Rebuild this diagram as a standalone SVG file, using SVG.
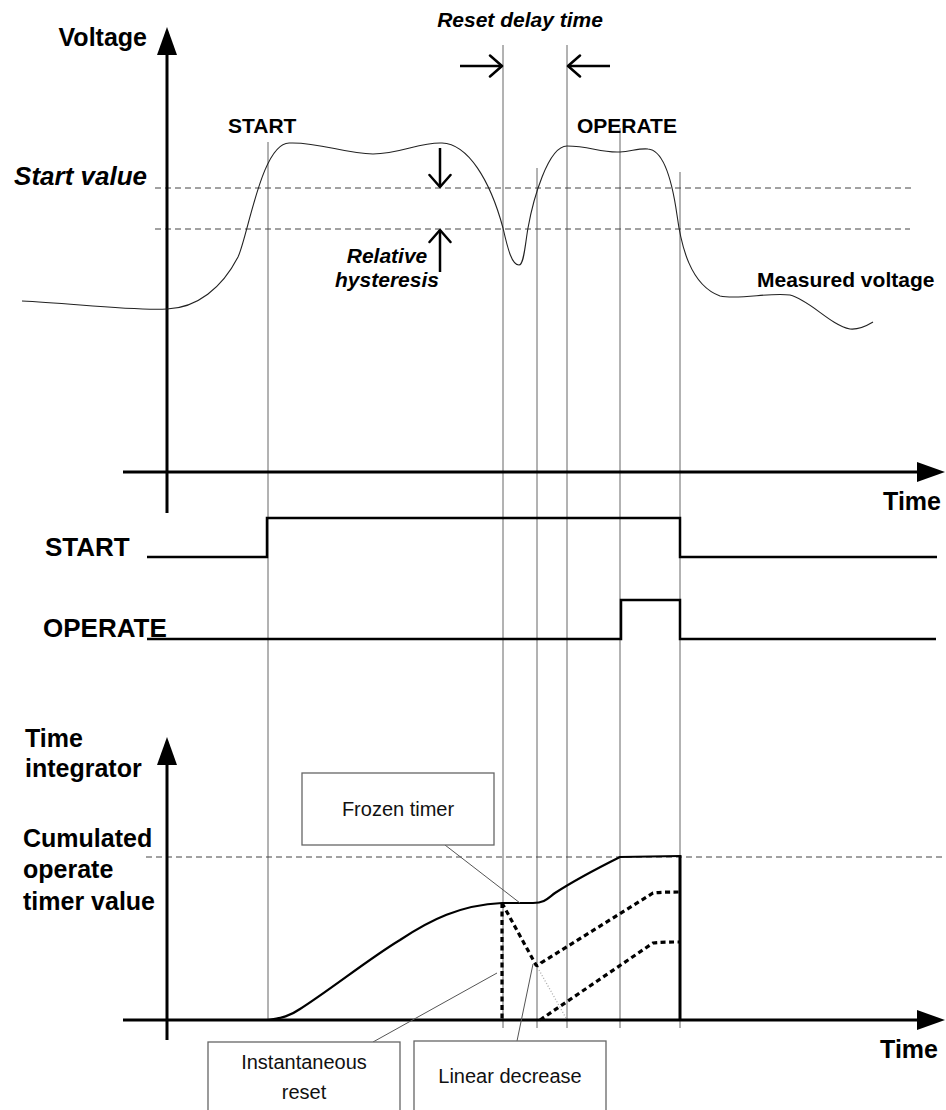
<svg xmlns="http://www.w3.org/2000/svg" width="946" height="1110" viewBox="0 0 946 1110">
<style>
.big{font-family:"Liberation Sans",Arial,sans-serif;font-weight:bold;font-size:25px;fill:#000}
.sig{font-family:"Liberation Sans",Arial,sans-serif;font-weight:bold;font-size:26px;fill:#000}
.mid{font-family:"Liberation Sans",Arial,sans-serif;font-weight:bold;font-size:21px;fill:#000}
.it{font-style:italic}
.box{font-family:"Liberation Sans",Arial,sans-serif;font-size:20px;fill:#111}
.axis{stroke:#000;stroke-width:3;fill:none}
.vline{stroke:#666;stroke-width:1;fill:none}
.hdash{stroke:#444;stroke-width:1;stroke-dasharray:6 4;fill:none}
.sigline{stroke:#000;stroke-width:2.5;fill:none}
.curve{stroke:#222;stroke-width:1.1;fill:none}
.timer{stroke:#000;stroke-width:2.2;fill:none}
.tdash{stroke:#000;stroke-width:3.2;stroke-dasharray:5 3.5;fill:none}
.arr{stroke:#000;stroke-width:2.5;fill:none}
.lead{stroke:#555;stroke-width:1;fill:none}
.cbox{fill:#fff;stroke:#666;stroke-width:1.3}
</style>
<defs>
<marker id="axhead" markerUnits="userSpaceOnUse" viewBox="0 0 28 20" refX="0" refY="10" markerWidth="28" markerHeight="20" orient="auto">
<path d="M0,0 L28,10 L0,20 z" fill="#000"/>
</marker>
<marker id="openhead" markerUnits="userSpaceOnUse" viewBox="0 0 16 24" refX="14" refY="12" markerWidth="16" markerHeight="24" orient="auto">
<path d="M2,1.5 L14,12 L2,22.5" fill="none" stroke="#000" stroke-width="2.5" stroke-linecap="round" stroke-linejoin="round"/>
</marker>
</defs>
<rect width="946" height="1110" fill="#fff"/>

<g id="guides">
<line class="vline" x1="268" y1="142" x2="268" y2="1020"/>
<line class="vline" x1="503" y1="45" x2="503" y2="1028"/>
<line class="vline" x1="537" y1="168" x2="537" y2="1028"/>
<line class="vline" x1="567" y1="45" x2="567" y2="1028"/>
<line class="vline" x1="620" y1="128" x2="620" y2="1028"/>
<line class="vline" x1="680" y1="172" x2="680" y2="1028"/>
<line class="hdash" x1="155" y1="188" x2="912" y2="188"/>
<line class="hdash" x1="155" y1="229" x2="910" y2="229"/>
<line class="hdash" x1="146" y1="857" x2="943" y2="857"/>
</g>

<g id="voltage-axes">
<line class="axis" x1="167" y1="513" x2="167" y2="55" marker-end="url(#axhead)"/>
<line class="axis" x1="123" y1="472" x2="917" y2="472" marker-end="url(#axhead)"/>
<text class="big" x="147" y="46" text-anchor="end">Voltage</text>
<text class="big" x="941" y="510" text-anchor="end">Time</text>
<text class="sig it" x="147" y="185" text-anchor="end">Start value</text>
</g>

<g id="measured-voltage">
<path class="curve" d="M22,301 C70,303 130,311 167,309 C197,308 222,288 238,257 C248,236 262,141 290,143 C320,142 345,154 373,154 C400,154 420,142 442,143 C468,144 490,180 503,228 C508,250 512,265 519,265 C524,265 525,245 528,228 C533,200 548,146 567,146 C590,146 600,153 620,152 C632,151 640,148 648,149 C664,150 672,180 677,215 C681,245 690,285 720,296 C740,300 770,292 790,295 C810,300 830,325 850,329 C860,330 868,325 873,322"/>
<text class="mid" x="757" y="287">Measured voltage</text>
</g>

<g id="start-label">
<text class="mid" x="228" y="133">START</text>
</g>
<g id="operate-label">
<text class="mid" x="577" y="133">OPERATE</text>
</g>

<g id="reset-delay">
<text class="mid it" x="520" y="27" text-anchor="middle">Reset delay time</text>
<line class="arr" x1="460" y1="66" x2="502" y2="66" marker-end="url(#openhead)"/>
<line class="arr" x1="610" y1="66" x2="568" y2="66" marker-end="url(#openhead)"/>
</g>

<g id="hysteresis">
<line class="arr" x1="440" y1="148" x2="440" y2="187" marker-end="url(#openhead)"/>
<line class="arr" x1="440" y1="272" x2="440" y2="230" marker-end="url(#openhead)"/>
<text class="mid it" x="387" y="263" text-anchor="middle">Relative</text>
<text class="mid it" x="387" y="287" text-anchor="middle">hysteresis</text>
</g>

<g id="start-signal">
<text class="sig" x="45" y="556">START</text>
<path class="sigline" d="M147,557 L267,557 L267,518 L680,518 L680,557 L937,557"/>
</g>

<g id="operate-signal">
<text class="sig" x="43" y="637">OPERATE</text>
<path class="sigline" d="M147,639 L621,639 L621,600 L680,600 L680,639 L936,639"/>
</g>

<g id="timer-axes">
<line class="axis" x1="167" y1="1040" x2="167" y2="765" marker-end="url(#axhead)"/>
<line class="axis" x1="123" y1="1020" x2="917" y2="1020" marker-end="url(#axhead)"/>
<text class="big" x="25" y="747">Time</text>
<text class="big" x="25" y="777">integrator</text>
<text class="big" x="23" y="847">Cumulated</text>
<text class="big" x="23" y="878">operate</text>
<text class="big" x="23" y="910">timer value</text>
<text class="big" x="938" y="1058" text-anchor="end">Time</text>
</g>

<g id="timer-curves">
<path class="timer" d="M268,1020 C282,1018 290,1016 300,1009 C330,990 370,958 400,940 C430,920 460,905 502,903 L533,903 C545,903 548,898 555,893 C575,880 600,867 620,857 L680,856"/>
<line x1="680" y1="855" x2="680" y2="1020" stroke="#000" stroke-width="3"/>
<path class="tdash" d="M502,903 L502,1020"/>
<path class="tdash" d="M502,903 L536,965 Q538,967 541,963 L653,893 Q660,892 680,892"/>
<path class="tdash" d="M540,1020 L653,943 Q660,942 680,942"/>
<line x1="539" y1="970" x2="566" y2="1018" stroke="#aaa" stroke-width="1.3" stroke-dasharray="1 2"/>
</g>

<g id="connectors">
<line class="lead" x1="445" y1="845" x2="520" y2="903"/>
<line class="lead" x1="373" y1="1042" x2="497" y2="973"/>
<line class="lead" x1="517" y1="1041" x2="533" y2="964"/>
</g>

<g id="frozen-timer">
<rect class="cbox" x="302" y="773" width="192" height="72"/>
<text class="box" x="398" y="816" text-anchor="middle">Frozen timer</text>
</g>

<g id="instantaneous-reset">
<rect class="cbox" x="208" y="1042" width="192" height="80"/>
<text class="box" x="304" y="1069" text-anchor="middle">Instantaneous</text>
<text class="box" x="304" y="1099" text-anchor="middle">reset</text>
</g>

<g id="linear-decrease">
<rect class="cbox" x="414" y="1041" width="192" height="80"/>
<text class="box" x="510" y="1083" text-anchor="middle">Linear decrease</text>
</g>
</svg>
